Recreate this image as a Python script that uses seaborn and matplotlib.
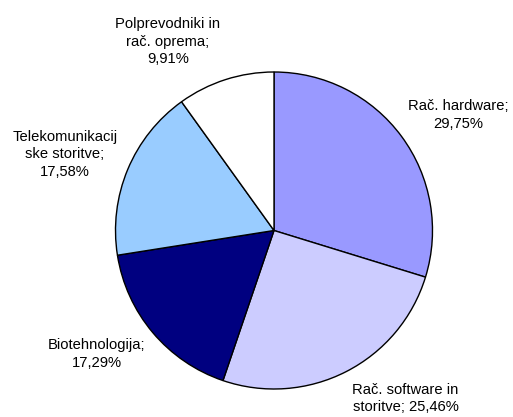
import matplotlib
matplotlib.use("Agg")
from matplotlib import pyplot as plt
import seaborn as sns

categories = ["Rač. hardware", "Rač. software in\nstoritve", "Biotehnologija",
              "Telekomunikacij\nske storitve", "Polprevodniki in\nrač. oprema"]
shares = [29.75, 25.46, 17.29, 17.58, 9.91]
share_text = ["29,75%", "25,46%", "17,29%", "17,58%", "9,91%"]
colors = ["#9999FF", "#CCCCFF", "#000080", "#99CCFF", "#FFFFFF"]

# label text as shown in the chart (line breaks differ per label)
label_text = [
    "Rač. hardware;\n29,75%",
    "Rač. software in\nstoritve; 25,46%",
    "Biotehnologija;\n17,29%",
    "Telekomunikacij\nske storitve;\n17,58%",
    "Polprevodniki in\nrač. oprema;\n9,91%",
]
# label anchor positions in pie units (radius = 1)
label_pos = [(1.16, 0.73), (0.83, -1.06), (-1.12, -0.78), (-1.32, 0.48), (-0.67, 1.19)]

sns.set_theme(style="white")
plt.rcParams['font.family'] = ['Liberation Sans', 'DejaVu Sans']

fig = plt.figure(figsize=(5.13, 4.17), dpi=100)
ax = fig.add_axes([115 / 513, 28 / 417, 318 / 513, 317 / 417])
ax.pie(shares, colors=colors, startangle=90, counterclock=False, radius=1,
       wedgeprops=dict(edgecolor="black", linewidth=1.0))
ax.set_xlim(-1, 1)
ax.set_ylim(-1, 1)
ax.set_aspect("equal")
ax.axis("off")

for txt, (x, y) in zip(label_text, label_pos):
    ax.text(x, y, txt, ha="center", va="center", fontsize=10.6, color="black",
            linespacing=1.32, clip_on=False)

fig.savefig("out.png", dpi=100, facecolor="white")
